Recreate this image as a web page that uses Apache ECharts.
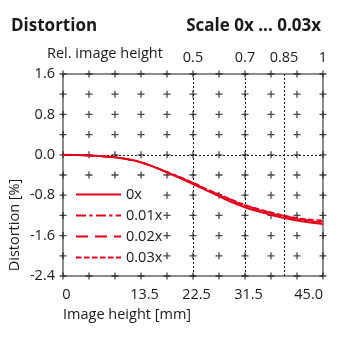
<!DOCTYPE html>
<html>
<head>
<meta charset="utf-8">
<script src="https://cdn.jsdelivr.net/npm/echarts@6/dist/echarts.min.js"></script>
<style>
  html, body { margin: 0; padding: 0; background: #fff; }
  #chart { width: 340px; height: 340px; }
</style>
</head>
<body>
<div id="chart"></div>
<script>
// Image height positions [mm]
const imageHeight = [0, 2.25, 4.5, 6.75, 9, 11.25, 13.5, 15.75, 18, 20.25, 22.5,
  24.75, 27, 29.25, 31.5, 33.75, 36, 38.25, 40.5, 42.75, 45];

// Distortion [%] for each magnification scale
const dist0x   = [0, -0.005, -0.015, -0.03, -0.05, -0.09, -0.15, -0.24, -0.35, -0.46, -0.58,
  -0.70, -0.82, -0.94, -1.04, -1.12, -1.19, -1.25, -1.30, -1.34, -1.37];
const dist001x = [0, -0.005, -0.015, -0.03, -0.05, -0.09, -0.15, -0.24, -0.34, -0.45, -0.57,
  -0.69, -0.80, -0.91, -1.01, -1.09, -1.16, -1.22, -1.27, -1.31, -1.34];
const dist002x = [0, -0.005, -0.015, -0.03, -0.05, -0.09, -0.15, -0.24, -0.34, -0.45, -0.56,
  -0.68, -0.79, -0.90, -1.00, -1.08, -1.15, -1.21, -1.26, -1.30, -1.32];
const dist003x = [0, -0.005, -0.015, -0.03, -0.05, -0.09, -0.15, -0.24, -0.34, -0.44, -0.55,
  -0.67, -0.78, -0.89, -0.99, -1.07, -1.14, -1.20, -1.25, -1.28, -1.30];

const seriesNames = ['0x', '0.01x', '0.02x', '0.03x'];

// Axis ticks and labels
const xGridTicks = [0, 4.5, 9, 13.5, 18, 22.5, 27, 31.5, 36, 40.5, 45];
const yGridTicks = [-2.4, -2.0, -1.6, -1.2, -0.8, -0.4, 0, 0.4, 0.8, 1.2, 1.6];
const xLabelValues = [0, 13.5, 22.5, 31.5, 45];
const yLabelValues = [-2.4, -1.6, -0.8, 0, 0.8, 1.6];
const relLabelValues = [0.5, 0.7, 0.85, 1];
const relGuideHeights = [22.5, 31.5, 38.25];

const FONT = '"Open Sans", "Noto Sans", sans-serif';
const INK = '#1a1a1a';
const RED = '#e3001b';
const LABEL_SIZE = 14.5;

const pairs = ys => imageHeight.map((x, i) => [x, ys[i]]);

// Cross markers at every tick intersection
const crossPoints = [];
xGridTicks.forEach(x => yGridTicks.forEach(y => crossPoints.push([x, y])));

const dashes = ['solid', [10, 3.3, 3.3, 3.3], [12, 7], [5.5, 2.5]];
const curves = [dist0x, dist001x, dist002x, dist003x];

const lineSeries = curves.map((d, i) => ({
  name: seriesNames[i],
  type: 'line',
  data: pairs(d),
  smooth: true,
  symbol: 'none',
  z: 5,
  lineStyle: { color: RED, width: i === 0 ? 2 : 1.6, type: dashes[i] },
  itemStyle: { color: RED },
  markLine: i === 0 ? {
    silent: true,
    symbol: 'none',
    label: { show: false },
    lineStyle: { color: INK, width: 1, type: [2, 2] },
    data: [{ yAxis: 0 }].concat(relGuideHeights.map(v => ({ xAxis: v })))
  } : undefined
}));

const chart = echarts.init(document.getElementById('chart'), null, { renderer: 'canvas' });
chart.setOption({
  animation: false,
  backgroundColor: '#fff',
  title: [
    { text: 'Distortion', left: 6, top: 13,
      textStyle: { fontFamily: FONT, fontSize: 17, fontWeight: 'bold', color: INK } },
    { text: 'Scale 0x ... 0.03x', right: 14, top: 13,
      textStyle: { fontFamily: FONT, fontSize: 17, fontWeight: 'bold', color: INK } }
  ],
  grid: { left: 63, right: 17, top: 74, bottom: 64, show: true,
    borderColor: INK, borderWidth: 1, backgroundColor: 'transparent' },
  legend: {
    orient: 'vertical',
    left: 73, top: 186,
    itemWidth: 45, itemHeight: 14, itemGap: 6,
    padding: [1, 0, 1, 2],
    backgroundColor: '#fff',
    data: seriesNames,
    itemStyle: { opacity: 0 },
    textStyle: { fontFamily: FONT, fontSize: LABEL_SIZE, color: INK }
  },
  xAxis: [
    {
      type: 'value', position: 'bottom', min: 0, max: 45, interval: 4.5,
      axisLine: { show: false }, axisTick: { show: false }, splitLine: { show: false },
      axisLabel: {
        customValues: xLabelValues,
        alignMaxLabel: 'right',
        padding: [0, 0, 0, 7],
        margin: 11, fontFamily: FONT, fontSize: LABEL_SIZE, color: INK,
        formatter: v => (v === 0 ? '0' : v.toFixed(1))
      }
    },
    {
      type: 'value', position: 'top', min: 0, max: 1, interval: 0.1,
      axisLine: { show: false }, axisTick: { show: false }, splitLine: { show: false },
      axisLabel: {
        customValues: relLabelValues,
        margin: 9, fontFamily: FONT, fontSize: LABEL_SIZE, color: INK,
        formatter: v => String(v)
      }
    }
  ],
  yAxis: {
    type: 'value', min: -2.4, max: 1.6, interval: 0.4,
    axisLine: { show: false }, axisTick: { show: false }, splitLine: { show: false },
    axisLabel: {
      customValues: yLabelValues,
      margin: 8, fontFamily: FONT, fontSize: LABEL_SIZE, color: INK,
      formatter: v => v.toFixed(1)
    }
  },
  graphic: [
    { type: 'text', left: 47, top: 46,
      style: { text: 'Rel. image height', font: LABEL_SIZE + 'px ' + FONT, fill: INK } },
    { type: 'text', left: 63, top: 307,
      style: { text: 'Image height [mm]', font: LABEL_SIZE + 'px ' + FONT, fill: INK } },
    { type: 'text', x: 15, y: 225, rotation: Math.PI / 2,
      style: { text: 'Distortion [%]', font: LABEL_SIZE + 'px ' + FONT, fill: INK,
        align: 'center', verticalAlign: 'middle' } }
  ],
  series: [
    {
      type: 'scatter',
      data: crossPoints,
      symbol: 'path://M2.85,0H4.15V2.85H7V4.15H4.15V7H2.85V4.15H0V2.85H2.85Z',
      symbolSize: 7,
      clip: false,
      silent: true,
      z: 1,
      itemStyle: { color: INK }
    }
  ].concat(lineSeries)
});
</script>
</body>
</html>
